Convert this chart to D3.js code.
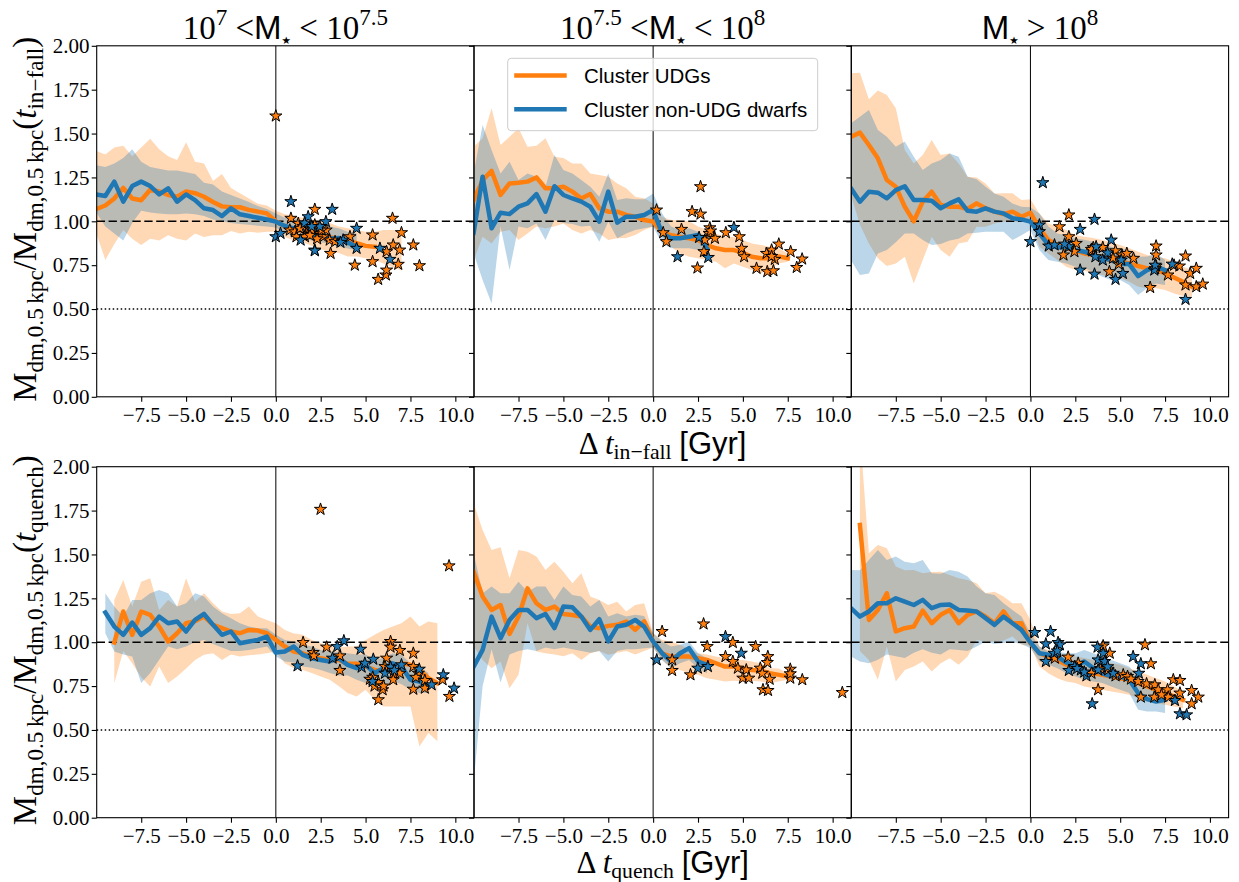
<!DOCTYPE html>
<html><head><meta charset="utf-8">
<script src="https://cdn.jsdelivr.net/npm/d3@7"></script>
<style>body{margin:0;background:#fff;} svg{display:block} text{white-space:pre}</style>
</head><body><svg id="c" width="1239" height="882"></svg>
<script>
// ---------------- DATA ----------------
const X_TICKS = [-7.5,-5,-2.5,0,2.5,5,7.5,10];
const X_TICK_LABELS = ['\u22127.5','\u22125.0','\u22122.5','0.0','2.5','5.0','7.5','10.0'];
const Y_TICKS = [0,0.25,0.5,0.75,1,1.25,1.5,1.75,2];
const Y_TICK_LABELS = ['0.00','0.25','0.50','0.75','1.00','1.25','1.50','1.75','2.00'];
const SERIES_NAMES = ['Cluster UDGs','Cluster non-UDG dwarfs'];

const T_M10_P3 = [-10,-9.5,-9,-8.5,-8,-7.5,-7,-6.5,-6,-5.5,-5,-4.5,-4,-3.5,-3,-2.5,-2,-1.5,-1,-0.5,0,0.5,1,1.5,2,2.5,3];
const T_M10_P4_5 = [-10,-9.5,-9,-8.5,-8,-7.5,-7,-6.5,-6,-5.5,-5,-4.5,-4,-3.5,-3,-2.5,-2,-1.5,-1,-0.5,0,0.5,1,1.5,2,2.5,3,3.5,4,4.5];
const T_M10_P7 = [-10,-9.5,-9,-8.5,-8,-7.5,-7,-6.5,-6,-5.5,-5,-4.5,-4,-3.5,-3,-2.5,-2,-1.5,-1,-0.5,0,0.5,1,1.5,2,2.5,3,3.5,4,4.5,5,5.5,6,6.5,7];
const T_M10_P7_5 = [-10,-9.5,-9,-8.5,-8,-7.5,-7,-6.5,-6,-5.5,-5,-4.5,-4,-3.5,-3,-2.5,-2,-1.5,-1,-0.5,0,0.5,1,1.5,2,2.5,3,3.5,4,4.5,5,5.5,6,6.5,7,7.5];
const T_M10_P9 = [-10,-9.5,-9,-8.5,-8,-7.5,-7,-6.5,-6,-5.5,-5,-4.5,-4,-3.5,-3,-2.5,-2,-1.5,-1,-0.5,0,0.5,1,1.5,2,2.5,3,3.5,4,4.5,5,5.5,6,6.5,7,7.5,8,8.5,9];
const T_M9_P9 = [-9,-8.5,-8,-7.5,-7,-6.5,-6,-5.5,-5,-4.5,-4,-3.5,-3,-2.5,-2,-1.5,-1,-0.5,0,0.5,1,1.5,2,2.5,3,3.5,4,4.5,5,5.5,6,6.5,7,7.5,8,8.5,9];
const T_M9_5_P8_5 = [-9.5,-9,-8.5,-8,-7.5,-7,-6.5,-6,-5.5,-5,-4.5,-4,-3.5,-3,-2.5,-2,-1.5,-1,-0.5,0,0.5,1,1.5,2,2.5,3,3.5,4,4.5,5,5.5,6,6.5,7,7.5,8,8.5];

// Panel A: top-left (in-fall, 1e7-1e7.5)
const A_udg_med = [1.07,1.09,1.13,1.19,1.13,1.12,1.18,1.17,1.15,1.14,1.17,1.16,1.14,1.11,1.085,1.08,1.08,1.065,1.055,1.045,1.0,0.97,0.955,0.945,0.93,0.92,0.91,0.90,0.89,0.875,0.86,0.855];
const A_udg_hi = [1.40,1.38,1.42,1.43,1.37,1.42,1.47,1.41,1.37,1.35,1.45,1.34,1.33,1.23,1.27,1.19,1.16,1.13,1.10,1.09,1.06,1.04,1.03,1.02,1.01,1.0,0.99,0.97,0.96,0.95,0.94,0.94,0.95,0.95,0.95];
const A_udg_lo = [0.93,0.78,0.87,0.95,0.90,0.865,0.90,0.89,0.92,0.90,0.89,0.93,0.91,0.92,0.92,0.945,0.93,0.94,0.935,0.94,0.94,0.91,0.89,0.88,0.86,0.84,0.83,0.82,0.80,0.80,0.79,0.78,0.76,0.74,0.72];
const A_dw_med = [1.153,1.144,1.226,1.112,1.201,1.226,1.201,1.153,1.188,1.112,1.153,1.121,1.074,1.064,1.030,1.074,1.04,1.03,1.02,1.01,0.998,0.973,0.96,0.95,0.93,0.92,0.90,0.905,0.88,0.855];
const A_dw_hi = [1.32,1.31,1.33,1.36,1.41,1.34,1.31,1.30,1.29,1.29,1.28,1.27,1.22,1.21,1.17,1.15,1.13,1.11,1.087,1.07,1.045,1.02,1.02,1.0,0.99,0.98,0.97,0.96,0.94,0.93];
const A_dw_lo = [1.05,0.97,0.93,0.89,0.99,1.06,1.05,1.045,1.04,1.04,1.045,1.04,1.03,1.01,1.0,0.99,0.985,0.98,0.975,0.97,0.965,0.93,0.915,0.90,0.89,0.88,0.87,0.855,0.845,0.835];
const A_udg_stars = [[0,1.6],[0.84,1.017],[2.17,1.068],[1.25,0.988],[0.78,0.95],[1.06,0.94],[1.52,0.97],[1.7,0.931],[1.9,0.96],[2.17,0.979],[2.45,0.931],[2.64,0.912],[3.0,0.893],[3.3,0.884],[1.15,0.912],[1.62,0.912],[2.17,0.836],[3.05,0.817],[4.13,0.912],[5.39,0.922],[6.5,1.017],[7.0,0.935],[7.66,0.865],[8.0,0.747],[4.4,0.75],[5.39,0.77],[5.7,0.669],[6.13,0.694],[6.17,0.722],[6.17,0.827],[6.54,0.865],[6.82,0.755],[6.9,0.836],[2.0,0.95],[2.8,0.95],[1.35,0.96],[2.3,0.9],[1.9,0.92],[2.55,0.95]];
const A_dw_stars = [[0,0.912],[0.26,0.931],[0.84,1.112],[1.8,1.026],[3.14,1.068],[2.79,0.998],[2.45,0.97],[1.38,0.893],[2.17,0.832],[4.5,0.96],[4.5,0.846],[3.75,0.893],[5.8,0.846],[6.36,0.783],[1.6,0.99],[2.0,0.97],[3.6,0.88]];

// Panel B: top-middle (in-fall, 1e7.5-1e8)
const B_udg_med = [1.12,1.235,1.287,1.15,1.216,1.22,1.226,1.25,1.188,1.188,1.197,1.169,1.13,1.155,1.074,1.055,1.055,1.036,1.026,1.007,0.998,0.94,0.92,0.912,0.903,0.893,0.865,0.846,0.836,0.836,0.821,0.798,0.789,0.789,0.80,0.789];
const B_udg_hi = [1.425,1.473,1.644,1.435,1.482,1.53,1.425,1.43,1.473,1.368,1.36,1.33,1.33,1.273,1.264,1.254,1.216,1.188,1.14,1.131,1.102,1.026,1.007,1.005,1.0,0.97,0.95,0.931,0.912,0.91,0.893,0.874,0.865,0.855,0.846,0.817];
const B_udg_lo = [0.779,0.912,0.874,0.94,0.95,0.893,0.931,0.97,0.96,0.97,0.988,0.95,0.931,0.95,0.931,0.893,0.903,0.905,0.922,0.95,0.97,0.912,0.855,0.817,0.798,0.79,0.779,0.77,0.732,0.76,0.741,0.722,0.703,0.732,0.76,0.77];
const B_dw_med = [0.935,1.254,0.96,1.049,1.041,1.083,1.102,1.155,1.055,1.2,1.15,1.13,1.112,1.083,0.998,1.169,0.992,1.026,1.026,1.036,1.064,0.931,0.903,0.903,0.912,0.922,0.846];
const B_dw_hi = [1.273,1.549,1.406,1.273,1.34,1.235,1.273,1.254,1.197,1.378,1.292,1.273,1.235,1.197,1.14,1.273,1.121,1.131,1.125,1.125,1.159,1.045,0.97,0.95,0.96,0.941,0.912];
const B_dw_lo = [0.817,0.665,0.532,0.97,0.722,0.97,0.96,0.988,0.893,1.007,0.99,0.985,0.97,0.975,0.884,0.998,0.903,0.93,0.95,0.96,0.97,0.874,0.846,0.846,0.846,0.836,0.798];
const B_udg_stars = [[0.19,1.064],[0.56,0.935],[0.74,0.884],[1.58,0.954],[2.17,1.055],[2.64,1.041],[2.64,1.197],[3.16,0.963],[3.12,0.931],[2.88,0.893],[3.44,0.903],[4.05,0.935],[4.8,0.912],[4.93,0.846],[5.07,0.798],[2.83,0.827],[2.47,0.734],[5.76,0.732],[6.32,0.817],[6.6,0.836],[6.78,0.783],[7.0,0.87],[6.36,0.713],[6.7,0.718],[7.66,0.827],[8.0,0.737],[8.3,0.785],[6.6,0.8],[3.2,0.945]];
const B_dw_stars = [[1.36,0.798],[2.56,0.908],[3.07,0.794],[4.5,0.965]];

// Panel C: top-right (in-fall, >1e8)
const C_udg_med = [1.482,1.505,1.435,1.359,1.235,1.197,1.083,1.0,1.112,1.169,1.093,1.083,1.083,1.07,1.102,1.074,1.055,1.041,1.055,1.026,1.049,0.96,0.893,0.865,0.846,0.836,0.817,0.808,0.794,0.775,0.77,0.76,0.745,0.732,0.726,0.703,0.68,0.656,0.627];
const C_udg_hi = [1.843,1.847,1.695,1.745,1.72,1.644,1.406,1.33,1.378,1.463,1.378,1.387,1.33,1.254,1.25,1.216,1.159,1.16,1.16,1.121,1.125,1.045,0.988,0.97,0.95,0.922,0.912,0.905,0.893,0.88,0.865,0.846,0.827,0.808,0.798,0.789,0.77,0.741,0.722];
const C_udg_lo = [1.15,0.98,0.874,0.789,0.745,0.76,0.798,0.646,0.779,0.912,0.836,0.798,0.874,0.884,0.969,0.969,0.988,0.998,0.998,0.998,1.007,0.855,0.817,0.779,0.741,0.722,0.72,0.703,0.694,0.684,0.675,0.656,0.627,0.618,0.618,0.608,0.589,0.574,0.57];
const C_dw_med = [1.188,1.112,1.169,1.163,1.131,1.178,1.2,1.121,1.121,1.117,1.074,1.102,1.125,1.06,1.055,1.074,1.055,1.045,1.017,1.011,0.998,0.931,0.865,0.851,0.855,0.836,0.827,0.808,0.789,0.779,0.756,0.756,0.688,0.722,0.741,0.722];
const C_dw_hi = [1.558,1.596,1.634,1.52,1.482,1.425,1.454,1.368,1.292,1.33,1.349,1.387,1.368,1.254,1.24,1.197,1.159,1.14,1.102,1.083,1.08,1.045,0.97,0.931,0.92,0.903,0.895,0.884,0.87,0.855,0.845,0.836,0.798,0.80,0.817,0.779];
const C_dw_lo = [0.779,0.694,0.703,0.817,0.836,0.88,0.931,0.931,0.893,0.865,0.87,0.89,0.9,0.931,0.935,0.941,0.941,0.941,0.893,0.92,0.95,0.836,0.779,0.77,0.76,0.741,0.735,0.71,0.684,0.665,0.665,0.637,0.58,0.618,0.646,0.637];
const C_udg_stars = [[2.14,1.036],[1.62,0.969],[2.14,0.912],[2.55,0.874],[2.45,0.827],[1.84,0.808],[3.44,0.832],[4.03,0.851],[4.74,0.832],[5.1,0.808],[4.92,0.756],[4.4,0.713],[5.74,0.789],[7.0,0.859],[7.0,0.808],[7.0,0.745],[6.67,0.623],[7.66,0.694],[8.3,0.745],[8.64,0.802],[8.9,0.703],[9.24,0.732],[8.64,0.637],[9.24,0.627],[9.6,0.642],[5.37,0.817],[3.5,0.85],[4.6,0.79],[8.0,0.75],[3.4,0.84],[6.95,0.73]];
const C_dw_stars = [[0.69,1.22],[0,0.884],[0.5,0.979],[0.5,0.941],[1.02,0.859],[1.34,0.865],[2.77,0.954],[3.57,1.011],[2.77,0.722],[3.57,0.699],[2.14,0.855],[3.66,0.855],[4.03,0.779],[4.5,0.893],[4.74,0.669],[5.15,0.703],[5.06,0.779],[6.9,0.722],[7.9,0.756],[8.64,0.555],[3.62,0.798],[4.3,0.82],[6.95,0.75],[1.9,0.87]];

// Panel D: bottom-left (quench, 1e7-1e7.5)
const D_udg_med = [0.998,1.175,1.042,1.175,1.156,1.089,1.004,1.051,1.108,1.12,1.146,1.099,1.08,1.061,1.051,1.07,1.066,1.051,1.013,0.975,0.947,0.937,0.918,0.909,0.899,0.899,0.877,0.877,0.861,0.842,0.833,0.861,0.88,0.871,0.842,0.795,0.767];
const D_udg_hi = [1.241,1.355,1.203,1.345,1.364,1.184,1.241,1.203,1.364,1.232,1.279,1.222,1.175,1.16,1.165,1.203,1.146,1.127,1.108,1.07,1.05,1.042,1.013,0.994,0.975,0.97,0.975,0.975,1.013,1.042,1.07,1.089,1.108,1.146,1.089,1.118,1.108];
const D_udg_lo = [0.767,0.95,0.88,0.80,0.748,0.861,0.767,0.805,0.85,0.899,0.928,0.937,0.899,0.93,0.918,0.925,0.93,0.937,0.947,0.88,0.852,0.842,0.824,0.805,0.786,0.75,0.71,0.691,0.729,0.672,0.634,0.634,0.634,0.634,0.406,0.482,0.435];
const D_dw_med = [1.169,1.089,1.042,1.112,1.042,1.08,1.146,1.108,1.118,1.061,1.127,1.161,1.099,1.042,1.061,0.994,1.004,1.013,1.032,0.941,0.947,0.975,0.928,0.909,0.899,0.89,0.909,0.871,0.852,0.871,0.824,0.852,0.88,0.861,0.786,0.776,0.748];
const D_dw_hi = [1.279,1.203,1.146,1.241,1.24,1.279,1.298,1.279,1.203,1.222,1.279,1.26,1.203,1.165,1.137,1.108,1.089,1.08,1.08,1.042,1.013,1.004,0.985,0.975,0.956,0.947,0.945,0.937,0.93,0.93,0.899,0.91,0.937,0.928,0.88,0.861,0.824];
const D_dw_lo = [1.051,0.947,0.93,0.918,0.767,0.824,0.9,0.975,0.96,0.975,1.0,1.013,0.99,0.97,0.95,0.95,0.955,0.965,0.975,0.918,0.89,0.885,0.861,0.855,0.842,0.824,0.81,0.81,0.786,0.767,0.757,0.748,0.78,0.76,0.729,0.71,0.71];
const D_udg_stars = [[2.49,1.757],[9.65,1.435],[1.52,0.998],[2.08,0.941],[2.12,0.922],[2.83,0.972],[3.57,0.922],[3.57,0.839],[6.39,1.004],[6.39,0.972],[6.91,0.953],[6.17,0.909],[7.66,0.937],[7.66,0.861],[6.08,0.861],[6.54,0.823],[6.54,0.786],[5.24,0.789],[5.71,0.77],[5.95,0.729],[5.71,0.672],[7.66,0.732],[8.3,0.782],[8.3,0.738],[7.94,0.823],[9.29,0.786],[9.67,0.691],[6.91,0.823],[5.5,0.75],[6.0,0.75],[5.4,0.8],[7.8,0.8]];
const D_dw_stars = [[1.21,0.865],[3.79,1.008],[3.16,0.909],[3.42,0.975],[4.72,0.96],[4.78,0.858],[4.96,0.88],[5.43,0.903],[6.08,0.823],[6.39,0.858],[7.0,0.871],[7.99,0.846],[8.68,0.757],[9.33,0.814],[9.93,0.738],[5.39,0.776],[6.6,0.84]];

// Panel E: bottom-middle (quench, 1e7.5-1e8)
const E_udg_med = [1.402,1.26,1.184,1.212,1.047,1.146,1.307,1.222,1.184,1.203,1.161,1.155,1.146,1.089,1.08,1.093,1.099,1.118,1.07,1.118,1.004,0.937,0.918,0.918,0.918,0.909,0.899,0.88,0.861,0.861,0.852,0.842,0.838,0.823,0.814,0.805];
const E_udg_hi = [1.791,1.639,1.526,1.541,1.364,1.526,1.516,1.488,1.412,1.459,1.402,1.336,1.393,1.26,1.241,1.212,1.231,1.175,1.212,1.222,1.051,1.013,1.004,0.985,0.96,0.937,0.93,0.918,0.909,0.899,0.899,0.89,0.88,0.852,0.85,0.823];
const E_udg_lo = [0.975,0.899,0.852,0.89,0.738,0.814,1.108,0.947,0.937,0.93,0.92,0.937,0.899,0.937,0.95,0.928,0.94,0.95,0.93,0.95,0.97,0.899,0.852,0.842,0.823,0.814,0.795,0.786,0.776,0.78,0.776,0.78,0.776,0.767,0.776,0.786];
const E_dw_med = [0.861,0.956,1.146,1.023,1.127,1.184,1.184,1.137,1.161,1.08,1.203,1.199,1.146,1.07,1.131,1.004,1.089,1.099,1.127,1.089,1.004,0.937,0.89,0.937,0.966,0.89,0.871];
const E_dw_hi = [1.507,1.279,1.317,1.279,1.279,1.345,1.288,1.317,1.317,1.241,1.317,1.269,1.26,1.203,1.241,1.146,1.165,1.146,1.156,1.15,1.051,1.004,0.975,0.985,1.004,0.937,0.909];
const E_dw_lo = [0.2,0.75,0.96,0.77,0.93,0.95,0.96,0.95,0.97,0.96,0.97,0.96,0.95,0.94,0.95,0.89,0.95,0.96,0.96,0.965,0.97,0.899,0.852,0.88,0.899,0.852,0.823];
const E_udg_stars = [[0.5,1.061],[2.81,1.104],[3.01,0.975],[1.06,0.899],[1.06,0.839],[2.08,0.814],[4.44,0.998],[5.71,0.975],[4.03,0.918],[4.44,0.89],[4.72,0.852],[5.19,0.842],[5.0,0.795],[5.33,0.795],[5.97,0.852],[6.39,0.918],[6.36,0.884],[6.08,0.823],[6.49,0.789],[6.12,0.729],[6.4,0.725],[7.64,0.846],[7.64,0.795],[8.31,0.786],[10.54,0.713],[7.64,0.82]];
const E_dw_stars = [[0.2,0.899],[2.49,0.852],[3.05,0.861],[4.03,1.032],[4.91,0.937]];

// Panel F: bottom-right (quench, >1e8)
const F_udg_med = [1.668,1.127,1.184,1.279,1.061,1.08,1.089,1.18,1.108,1.156,1.184,1.108,1.156,1.175,1.146,1.108,1.175,1.108,1.108,0.994,0.937,0.918,0.899,0.871,0.852,0.833,0.823,0.814,0.805,0.795,0.786,0.767,0.748,0.729,0.71,0.691,0.672];
const F_udg_hi = [2.2,1.507,1.554,1.535,1.431,1.41,1.412,1.393,1.40,1.402,1.383,1.364,1.355,1.336,1.279,1.288,1.26,1.222,1.222,1.127,0.975,0.956,0.937,0.928,0.918,0.91,0.899,0.89,0.88,0.871,0.852,0.833,0.814,0.795,0.776,0.748,0.719];
const F_udg_lo = [0.95,0.899,0.786,0.975,0.776,0.842,0.861,0.89,0.833,0.88,0.909,0.871,0.918,1.013,1.004,1.004,1.01,1.032,0.985,0.98,0.861,0.823,0.795,0.776,0.767,0.748,0.738,0.729,0.719,0.71,0.70,0.681,0.662,0.653,0.643,0.634,0.624];
const F_dw_med = [1.194,1.146,1.175,1.222,1.222,1.25,1.231,1.212,1.241,1.194,1.212,1.215,1.184,1.18,1.175,1.137,1.099,1.146,1.108,1.07,0.998,0.937,0.928,0.918,0.884,0.861,0.89,0.852,0.823,0.805,0.805,0.786,0.71,0.676,0.662,0.672];
const F_dw_hi = [1.412,1.41,1.469,1.526,1.469,1.488,1.459,1.45,1.469,1.393,1.39,1.412,1.402,1.374,1.317,1.279,1.269,1.222,1.184,1.146,1.051,0.975,0.947,0.947,0.937,0.937,0.956,0.937,0.918,0.899,0.88,0.861,0.805,0.748,0.729,0.71];
const F_dw_lo = [0.918,0.89,0.88,0.90,0.93,0.92,0.91,0.94,0.96,0.94,0.93,0.96,0.956,0.95,0.975,1.004,0.99,0.995,1.0,0.99,0.966,0.89,0.871,0.852,0.823,0.805,0.786,0.776,0.767,0.748,0.729,0.71,0.615,0.605,0.605,0.596];
const F_udg_stars = [[1.36,0.909],[2.1,0.915],[2.66,0.88],[4.05,0.979],[4.42,0.937],[3.77,0.729],[3.4,0.823],[4.33,0.842],[4.74,0.808],[5.17,0.814],[5.41,0.805],[6.38,0.985],[6.71,0.877],[6.0,0.776],[6.47,0.763],[6.93,0.757],[7.12,0.729],[6.15,0.687],[6.9,0.687],[7.64,0.729],[7.96,0.786],[8.33,0.782],[8.33,0.71],[7.68,0.687],[8.98,0.725],[9.35,0.687],[8.98,0.649],[3.9,0.85],[5.6,0.79],[7.3,0.7]];
const F_dw_stars = [[0.24,1.055],[1.12,1.061],[0.86,0.99],[1.54,0.998],[1.64,0.985],[0.86,0.89],[1.32,0.937],[2.47,0.861],[2.81,0.842],[3.12,0.808],[2.14,0.839],[3.74,0.972],[3.77,0.899],[4.05,0.937],[4.14,0.89],[4.61,0.823],[3.44,0.649],[5.72,0.918],[6.15,0.877],[6.04,0.823],[8.05,0.668],[8.33,0.592],[8.7,0.586],[3.77,0.842],[1.5,0.95],[3.0,0.83],[4.3,0.86],[2.6,0.85]];

// ---------------- LAYOUT / STYLE ----------------
const ORANGE = '#ff7f0e', BLUE = '#1f77b4';
const SERIF = "'Liberation Serif','DejaVu Serif',serif";
const SANS = "'Liberation Sans','DejaVu Sans',sans-serif";
const STARF = "'DejaVu Sans',sans-serif";
const COL_X = [96.7, 474.0, 851.3];
const ROW_Y = [45.8, 466.7];
const PW = 377.3, PH = 351;
const X_DOMAIN = [-9.98, 11.04];
const Y_DOMAIN = [0, 2];

const svg = d3.select('#c');
svg.append('rect').attr('width',1239).attr('height',882).attr('fill','#fff');

function zip(ts, a, b){
  const n = Math.min(ts.length, a.length, b ? b.length : Infinity);
  const out = [];
  for(let i=0;i<n;i++) out.push(b ? {t:ts[i], lo:a[i], hi:b[i]} : {t:ts[i], v:a[i]});
  return out;
}

function rich(parent, segs, size){
  const t = parent.append('text').attr('font-size', size).attr('fill','#000');
  let cur = 0;
  segs.forEach(s => {
    const sh = (s.sh || 0) * size;
    const ts = t.append('tspan').text(s.t)
      .attr('font-family', s.f || SERIF)
      .attr('font-size', (s.sc || 1) * size)
      .attr('dy', (sh - cur).toFixed(2));
    if (s.it) ts.attr('font-style','italic');
    cur = sh;
  });
  return t;
}

const panels = [
  {c:0,r:0, uT:T_M10_P7, uMed:A_udg_med, uHi:A_udg_hi, uLo:A_udg_lo, bT:T_M10_P4_5, bMed:A_dw_med, bHi:A_dw_hi, bLo:A_dw_lo, uS:A_udg_stars, bS:A_dw_stars},
  {c:1,r:0, uT:T_M10_P7_5, uMed:B_udg_med, uHi:B_udg_hi, uLo:B_udg_lo, bT:T_M10_P3, bMed:B_dw_med, bHi:B_dw_hi, bLo:B_dw_lo, uS:B_udg_stars, bS:B_dw_stars},
  {c:2,r:0, uT:T_M10_P9, uMed:C_udg_med, uHi:C_udg_hi, uLo:C_udg_lo, bT:T_M10_P7_5, bMed:C_dw_med, bHi:C_dw_hi, bLo:C_dw_lo, uS:C_udg_stars, bS:C_dw_stars},
  {c:0,r:1, uT:T_M9_P9, uMed:D_udg_med, uHi:D_udg_hi, uLo:D_udg_lo, bT:T_M9_5_P8_5, bMed:D_dw_med, bHi:D_dw_hi, bLo:D_dw_lo, uS:D_udg_stars, bS:D_dw_stars},
  {c:1,r:1, uT:T_M10_P7_5, uMed:E_udg_med, uHi:E_udg_hi, uLo:E_udg_lo, bT:T_M10_P3, bMed:E_dw_med, bHi:E_dw_hi, bLo:E_dw_lo, uS:E_udg_stars, bS:E_dw_stars},
  {c:2,r:1, uT:T_M9_5_P8_5, uMed:F_udg_med, uHi:F_udg_hi, uLo:F_udg_lo, bT:T_M10_P7_5, bMed:F_dw_med, bHi:F_dw_hi, bLo:F_dw_lo, uS:F_udg_stars, bS:F_dw_stars}
];

const star = d3.symbol().type(d3.symbolStar).size(46);

panels.forEach((p, i) => {
  const g = svg.append('g').attr('transform', `translate(${COL_X[p.c]},${ROW_Y[p.r]})`);
  const x = d3.scaleLinear().domain(X_DOMAIN).range([0, PW]);
  const y = d3.scaleLinear().domain(Y_DOMAIN).range([PH, 0]);
  const cid = 'clip' + i;
  g.append('clipPath').attr('id', cid).append('rect').attr('width', PW).attr('height', PH);
  const plot = g.append('g').attr('clip-path', `url(#${cid})`);

  const area = d3.area().x(d => x(d.t)).y0(d => y(d.lo)).y1(d => y(d.hi));
  const line = d3.line().x(d => x(d.t)).y(d => y(d.v));

  plot.append('path').datum(zip(p.uT, p.uLo, p.uHi)).attr('d', area).attr('fill', ORANGE).attr('fill-opacity', 0.3);
  plot.append('path').datum(zip(p.bT, p.bLo, p.bHi)).attr('d', area).attr('fill', BLUE).attr('fill-opacity', 0.3);

  // reference lines
  plot.append('line').attr('x1', 0).attr('x2', PW).attr('y1', y(1)).attr('y2', y(1))
    .attr('stroke', '#000').attr('stroke-width', 1.5).attr('stroke-dasharray', '8.3,3.6');
  plot.append('line').attr('x1', 0).attr('x2', PW).attr('y1', y(0.5)).attr('y2', y(0.5))
    .attr('stroke', '#000').attr('stroke-width', 1.5).attr('stroke-dasharray', '1.5,2.5');
  plot.append('line').attr('x1', x(0)).attr('x2', x(0)).attr('y1', 0).attr('y2', PH)
    .attr('stroke', '#000').attr('stroke-width', 1);

  plot.append('path').datum(zip(p.uT, p.uMed)).attr('d', line).attr('fill', 'none')
    .attr('stroke', ORANGE).attr('stroke-width', 4.5).attr('stroke-linejoin', 'round').attr('stroke-linecap', 'square');
  plot.append('path').datum(zip(p.bT, p.bMed)).attr('d', line).attr('fill', 'none')
    .attr('stroke', BLUE).attr('stroke-width', 4.5).attr('stroke-linejoin', 'round').attr('stroke-linecap', 'square');

  plot.selectAll('.su').data(p.uS).enter().append('path')
    .attr('transform', d => `translate(${x(d[0])},${y(d[1])})`).attr('d', star)
    .attr('fill', ORANGE).attr('stroke', '#000').attr('stroke-width', 1);
  plot.selectAll('.sb').data(p.bS).enter().append('path')
    .attr('transform', d => `translate(${x(d[0])},${y(d[1])})`).attr('d', star)
    .attr('fill', BLUE).attr('stroke', '#000').attr('stroke-width', 1);

  // frame
  g.append('rect').attr('width', PW).attr('height', PH).attr('fill', 'none').attr('stroke', '#000').attr('stroke-width', 1.1);

  // axes
  const xa = g.append('g').attr('transform', `translate(0,${PH})`)
    .call(d3.axisBottom(x).tickValues(X_TICKS).tickFormat((d, k) => X_TICK_LABELS[k]).tickSize(5).tickSizeOuter(0).tickPadding(5));
  xa.select('.domain').remove();
  xa.selectAll('line').attr('stroke', '#000').attr('stroke-width', 1.1);
  xa.selectAll('text').attr('font-family', SERIF).attr('font-size', 21).attr('fill', '#000');

  const ya = g.append('g')
    .call(d3.axisLeft(y).tickValues(Y_TICKS).tickFormat((d, k) => p.c === 0 ? Y_TICK_LABELS[k] : '').tickSize(5).tickSizeOuter(0).tickPadding(2.2));
  ya.select('.domain').remove();
  ya.selectAll('line').attr('stroke', '#000').attr('stroke-width', 1.1);
  ya.selectAll('text').attr('font-family', SERIF).attr('font-size', 21).attr('fill', '#000');
});

// titles
const TS = 33;
const STAR_SUB = {t:'\u2605', f:STARF, sc:0.32, sh:0.16};
const titles = [
  [{t:'10'},{t:'7',sc:0.7,sh:-0.42},{t:' <'},{t:'M',f:SANS},STAR_SUB,{t:' < 10'},{t:'7.5',sc:0.7,sh:-0.42}],
  [{t:'10'},{t:'7.5',sc:0.7,sh:-0.42},{t:' <'},{t:'M',f:SANS},STAR_SUB,{t:' < 10'},{t:'8',sc:0.7,sh:-0.42}],
  [{t:'M',f:SANS},STAR_SUB,{t:' > 10'},{t:'8',sc:0.7,sh:-0.42}]
];
titles.forEach((segs, c) => {
  const g = svg.append('g').attr('transform', `translate(${COL_X[c] + PW/2},39)`);
  rich(g, segs, TS).attr('text-anchor', 'middle');
});

// y labels
const YS = 33;
const ySub = [ 'in\u2212fall', 'quench' ];
ROW_Y.forEach((ry, r) => {
  const g = svg.append('g').attr('transform', `translate(36,${ry + PH/2 - 2}) rotate(-90)`);
  rich(g, [
    {t:'M'},{t:'dm,0.5\u2009kpc',sc:0.7,sh:0.2},{t:'/M'},{t:'dm,0.5\u2009kpc',sc:0.7,sh:0.2},
    {t:'('},{t:'t',it:true},{t:ySub[r],sc:0.7,sh:0.2},{t:')'}
  ], YS).attr('text-anchor', 'middle');
});

// x labels
const XS = 31;
[[454, 'in\u2212fall'], [873, 'quench']].forEach(([by, sub]) => {
  const g = svg.append('g').attr('transform', `translate(${COL_X[1] + PW/2},${by})`);
  rich(g, [{t:'\u0394\u2009'},{t:'t',it:true},{t:sub,sc:0.7,sh:0.15},{t:' '},{t:'[Gyr]',f:SANS}], XS).attr('text-anchor', 'middle');
});

// legend
const lg = svg.append('g').attr('transform', 'translate(507.7,58.3)');
lg.append('rect').attr('width', 310).attr('height', 72.4).attr('rx', 3.5)
  .attr('fill', '#fff').attr('fill-opacity', 0.8).attr('stroke', '#cccccc').attr('stroke-width', 1);
[[ORANGE, 17.3, SERIES_NAMES[0]], [BLUE, 51, SERIES_NAMES[1]]].forEach(([col, ly, name]) => {
  lg.append('line').attr('x1', 6.5).attr('x2', 59).attr('y1', ly).attr('y2', ly).attr('stroke', col).attr('stroke-width', 4.5);
  lg.append('text').attr('x', 76.3).attr('y', ly + 7.6).attr('font-family', SANS).attr('font-size', 20.5).attr('fill', '#000').text(name);
});
</script></body></html>
